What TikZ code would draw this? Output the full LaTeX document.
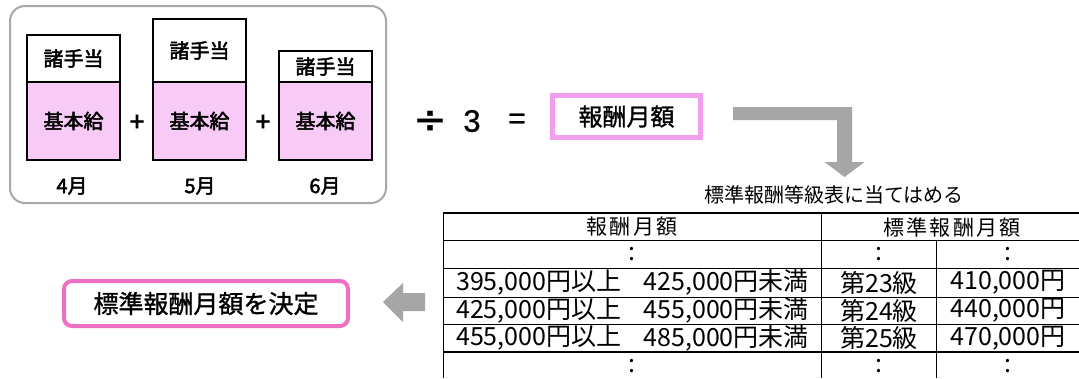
\documentclass[tikz,border=0pt]{standalone}
\usepackage{fontspec}
\setmainfont{Noto Sans CJK JP}
\newfontfamily\semib[FakeBold=1.2]{Noto Sans CJK JP}
\newfontfamily\heavyb[FakeBold=2.4]{Noto Sans CJK JP}
\newfontfamily\spaced[LetterSpace=11]{Noto Sans CJK JP}
\newfontfamily\arialb[FakeBold=0.8]{Liberation Sans}
\newfontfamily\dejab[FakeBold=0.8]{DejaVu Sans}
\definecolor{pinkfill}{HTML}{F8CBF6}
\definecolor{lightmag}{HTML}{F2A0EE}
\definecolor{hotpink}{HTML}{EE70C4}
\definecolor{arrowgray}{HTML}{A6A6A6}
\definecolor{framegray}{HTML}{A8A8A8}
\begin{document}
\begin{tikzpicture}[x=1pt,y=-1pt,
  sz/.style={font=\fontsize{#1pt}{#1pt}\selectfont},
  bsz/.style={font=\semib\fontsize{#1pt}{#1pt}\selectfont},
  hsz/.style={font=\heavyb\fontsize{#1pt}{#1pt}\selectfont},
  allow/.style={draw=black,line width=1.5pt,fill=white,minimum width=93pt,inner sep=0pt,hsz=20},
  base/.style={draw=black,line width=1.5pt,fill=pinkfill,minimum width=93pt,minimum height=78pt,inner sep=0pt,hsz=20},
  tline/.style={line width=1pt,draw=black},
  tcell/.style={inner sep=0pt,sz=25},
  thead/.style={inner sep=0pt,font=\spaced\fontsize{21pt}{21pt}\selectfont},
  grayarrow/.style={fill=arrowgray,draw=none}]
\useasboundingbox[fill=white] (0,0) rectangle (1079,378);
% outer frame
\draw[framegray,line width=2pt,rounded corners=15pt] (10,6) rectangle (386,203);
% month columns
\node[allow,minimum height=47pt] (a1) at (73.5,58.5) {諸手当};
\node[base] (b1) at (73.5,121) {基本給};
\node[allow,minimum height=63pt] (a2) at (199.5,50.5) {諸手当};
\node[base] (b2) at (199.5,121) {基本給};
\node[allow,minimum height=31pt] (a3) at (325.5,66.5) {諸手当};
\node[base] (b3) at (325.5,121) {基本給};
\node[hsz=26] (p1) at (137,123) {+};
\node[hsz=26] (p2) at (263,123) {+};
\node[hsz=20] (m4) at (72,186) {4月};
\node[hsz=20] (m5) at (200,186) {5月};
\node[hsz=20] (m6) at (325,186) {6月};
% formula
\node[font=\dejab\fontsize{40pt}{40pt}\selectfont] (div) at (430,122) {÷};
\node[font=\arialb\fontsize{31pt}{31pt}\selectfont] (three) at (472,121) {3};
\node[font=\arialb\fontsize{30pt}{30pt}\selectfont] (eq) at (517,121) {=};
\node[draw=lightmag,line width=5pt,minimum width=148pt,minimum height=42pt,inner sep=0pt,bsz=24] (hm) at (626.5,116.5) {報酬月額};
% L arrow
\fill[grayarrow] (733,107) -- (852,107) -- (852,162) -- (864.5,162) -- (844.5,177) -- (824.5,162) -- (837,162) -- (837,120) -- (733,120) -- cycle;
\node[sz=20] (cap) at (834,195) {標準報酬等級表に当てはめる};
% table
\draw[line width=1.6pt] (443,213) -- (1079,213);
\foreach \yy in {240,268,297,324} \draw[tline] (443,\yy) -- (1079,\yy);
\draw[line width=2pt] (443,352) -- (1079,352);
\draw[tline] (443,213) -- (443,378);
\draw[tline] (821,213) -- (821,378);
\draw[tline] (936,240) -- (936,378);
\node[thead] (h1) at (632,227) {報酬月額};
\node[thead] (h2) at (952,227) {標準報酬月額};
\node[tcell] (c1) at (632,254) {:};
\node[tcell] (c2) at (879,254) {:};
\node[tcell] (c3) at (1008,254) {:};
\node[tcell,anchor=west] (l1) at (456,282.5) {395,000円以上};
\node[tcell,anchor=east] (r1) at (809,282.5) {425,000円未満};
\node[tcell] (g1) at (879,282.5) {第23級};
\node[tcell] (v1) at (1008,282.5) {410,000円};
\node[tcell,anchor=west] (l2) at (456,310.5) {425,000円以上};
\node[tcell,anchor=east] (r2) at (809,310.5) {455,000円未満};
\node[tcell] (g2) at (879,310.5) {第24級};
\node[tcell] (v2) at (1008,310.5) {440,000円};
\node[tcell,anchor=west] (l3) at (456,338) {455,000円以上};
\node[tcell,anchor=east] (r3) at (809,338) {485,000円未満};
\node[tcell] (g3) at (879,338) {第25級};
\node[tcell] (v3) at (1008,338) {470,000円};
\node[tcell] (d1) at (632,366) {:};
\node[tcell] (d2) at (879,366) {:};
\node[tcell] (d3) at (1008,366) {:};
% result
\node[draw=hotpink,line width=4pt,rounded corners=8pt,minimum width=284pt,minimum height=45pt,inner sep=0pt,bsz=25] (res) at (206,303.5) {標準報酬月額を決定};
\fill[grayarrow] (383,302) -- (403,283) -- (403,293) -- (425,293) -- (425,311) -- (403,311) -- (403,322) -- cycle;
\end{tikzpicture}
\end{document}
